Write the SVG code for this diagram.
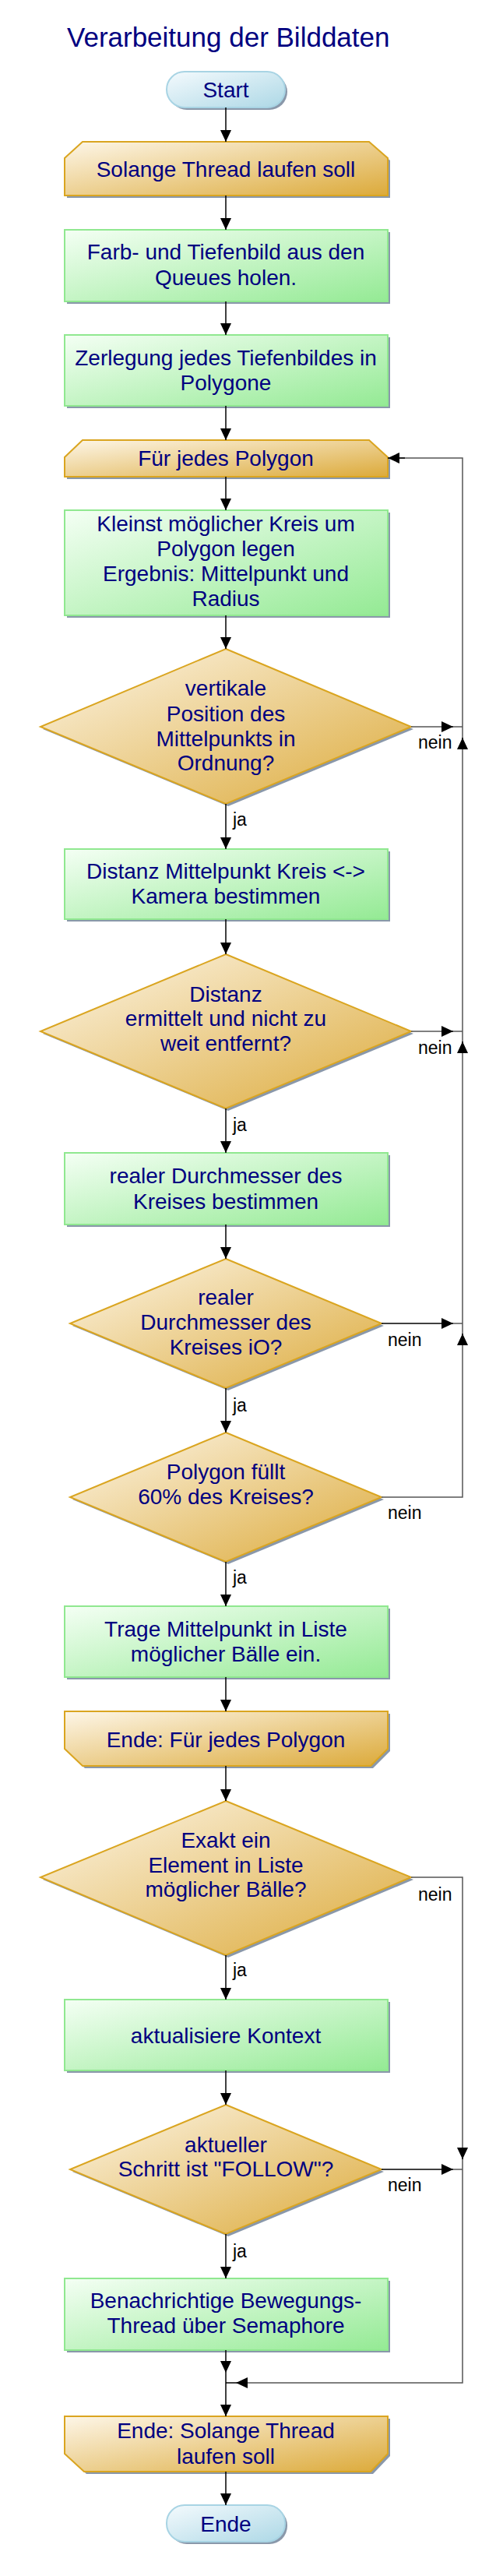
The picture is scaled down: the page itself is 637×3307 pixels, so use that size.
<svg xmlns="http://www.w3.org/2000/svg" width="637" height="3307" viewBox="0 0 637 3307">
<defs>
<linearGradient id="gGreen" x1="0" y1="0" x2="1" y2="1"><stop offset="0" stop-color="#f4fff4"/><stop offset="1" stop-color="#94ea94"/></linearGradient>
<linearGradient id="gGold" x1="0" y1="0" x2="1" y2="1"><stop offset="0" stop-color="#fdf6e8"/><stop offset="1" stop-color="#dcaa3a"/></linearGradient>
<linearGradient id="gBlue" x1="0" y1="0" x2="1" y2="1"><stop offset="0" stop-color="#f4fafd"/><stop offset="1" stop-color="#add8e6"/></linearGradient>
<marker id="ah" markerUnits="userSpaceOnUse" markerWidth="15" markerHeight="14" refX="15" refY="7" orient="auto"><path d="M0,0 L15,7 L0,14 z" fill="#000"/></marker>
<style>
.t{font-family:"Liberation Sans",Arial,sans-serif;font-size:28px;fill:#000080;text-anchor:middle}
.title{font-family:"Liberation Sans",Arial,sans-serif;font-size:35px;fill:#000080}
.lb{font-family:"Liberation Sans",Arial,sans-serif;font-size:23px;fill:#000}
.green{fill:url(#gGreen);stroke:#90e890;stroke-width:2}
.gold{fill:url(#gGold);stroke:#daa520;stroke-width:2}
.blue{fill:url(#gBlue);stroke:#a8d4e4;stroke-width:2}
.sh{fill:#8a98aa}
.c{fill:none;stroke:#000;stroke-width:1.5}
.lp{fill:none;stroke:#555;stroke-width:1.5}
</style>
</defs>
<rect width="637" height="3307" fill="#fff"/>
<text class="title" x="86" y="60">Verarbeitung der Bilddaten</text>

<g id="start">
<rect class="sh" x="217" y="95" width="152" height="46" rx="23"/>
<rect class="blue" x="214" y="92" width="152" height="46" rx="23"/>
<text class="t" x="290" y="125">Start</text>
</g>

<g id="loop1start">
<polygon class="sh" points="109,185 477,185 501,206 501,254 86,254 86,206"/>
<polygon class="gold" points="106,182 474,182 498,203 498,251 83,251 83,203"/>
<text class="t" x="290" y="227">Solange Thread laufen soll</text>
</g>

<g id="p1">
<rect class="sh" x="86" y="298" width="415" height="92"/>
<rect class="green" x="83" y="295" width="415" height="92"/>
<text class="t" x="290" y="333">Farb- und Tiefenbild aus den</text>
<text class="t" x="290" y="366">Queues holen.</text>
</g>

<g id="p2">
<rect class="sh" x="86" y="433" width="415" height="91"/>
<rect class="green" x="83" y="430" width="415" height="91"/>
<text class="t" x="290" y="469">Zerlegung jedes Tiefenbildes in</text>
<text class="t" x="290" y="501">Polygone</text>
</g>

<g id="loop2start">
<polygon class="sh" points="109,568 477,568 501,590 501,615 86,615 86,590"/>
<polygon class="gold" points="106,565 474,565 498,587 498,612 83,612 83,587"/>
<text class="t" x="290" y="598">Für jedes Polygon</text>
</g>

<g id="p3">
<rect class="sh" x="86" y="658" width="415" height="135"/>
<rect class="green" x="83" y="655" width="415" height="135"/>
<text class="t" x="290" y="682">Kleinst möglicher Kreis um</text>
<text class="t" x="290" y="714">Polygon legen</text>
<text class="t" x="290" y="746">Ergebnis: Mittelpunkt und</text>
<text class="t" x="290" y="778">Radius</text>
</g>

<g id="d1">
<polygon class="sh" points="293,836 531,936 293,1035 55,936"/>
<polygon class="gold" points="290,833 528,933 290,1032 52,933"/>
<text class="t" x="290" y="893">vertikale</text>
<text class="t" x="290" y="926">Position des</text>
<text class="t" x="290" y="958">Mittelpunkts in</text>
<text class="t" x="290" y="989">Ordnung?</text>
</g>

<g id="p4">
<rect class="sh" x="86" y="1093" width="415" height="90"/>
<rect class="green" x="83" y="1090" width="415" height="90"/>
<text class="t" x="290" y="1128">Distanz Mittelpunkt Kreis &lt;-&gt;</text>
<text class="t" x="290" y="1160">Kamera bestimmen</text>
</g>

<g id="d2">
<polygon class="sh" points="293,1228 531,1327 293,1426 55,1327"/>
<polygon class="gold" points="290,1225 528,1324 290,1423 52,1324"/>
<text class="t" x="290" y="1286">Distanz</text>
<text class="t" x="290" y="1317">ermittelt und nicht zu</text>
<text class="t" x="290" y="1349">weit entfernt?</text>
</g>

<g id="p5">
<rect class="sh" x="86" y="1483" width="415" height="92"/>
<rect class="green" x="83" y="1480" width="415" height="92"/>
<text class="t" x="290" y="1519">realer Durchmesser des</text>
<text class="t" x="290" y="1552">Kreises bestimmen</text>
</g>

<g id="d3">
<polygon class="sh" points="293,1619 493,1702 293,1785 93,1702"/>
<polygon class="gold" points="290,1616 490,1699 290,1782 90,1699"/>
<text class="t" x="290" y="1675">realer</text>
<text class="t" x="290" y="1707">Durchmesser des</text>
<text class="t" x="290" y="1739">Kreises iO?</text>
</g>

<g id="d4">
<polygon class="sh" points="293,1842 493,1925 293,2008 93,1925"/>
<polygon class="gold" points="290,1839 490,1922 290,2005 90,1922"/>
<text class="t" x="290" y="1899">Polygon füllt</text>
<text class="t" x="290" y="1931">60% des Kreises?</text>
</g>

<g id="p6">
<rect class="sh" x="86" y="2065" width="415" height="91"/>
<rect class="green" x="83" y="2062" width="415" height="91"/>
<text class="t" x="290" y="2101">Trage Mittelpunkt in Liste</text>
<text class="t" x="290" y="2133">möglicher Bälle ein.</text>
</g>

<g id="loop2end">
<polygon class="sh" points="86,2200 501,2200 501,2248 479,2270 109,2270 86,2248"/>
<polygon class="gold" points="83,2197 498,2197 498,2245 476,2267 106,2267 83,2245"/>
<text class="t" x="290" y="2243">Ende: Für jedes Polygon</text>
</g>

<g id="d5">
<polygon class="sh" points="293,2315 531,2413 293,2513 55,2413"/>
<polygon class="gold" points="290,2312 528,2410 290,2510 52,2410"/>
<text class="t" x="290" y="2372">Exakt ein</text>
<text class="t" x="290" y="2404">Element in Liste</text>
<text class="t" x="290" y="2435">möglicher Bälle?</text>
</g>

<g id="p7">
<rect class="sh" x="86" y="2570" width="415" height="91"/>
<rect class="green" x="83" y="2567" width="415" height="91"/>
<text class="t" x="290" y="2623">aktualisiere Kontext</text>
</g>

<g id="d6">
<polygon class="sh" points="293,2705 493,2788 293,2871 93,2788"/>
<polygon class="gold" points="290,2702 490,2785 290,2868 90,2785"/>
<text class="t" x="290" y="2763">aktueller</text>
<text class="t" x="290" y="2794">Schritt ist "FOLLOW"?</text>
</g>

<g id="p8">
<rect class="sh" x="86" y="2928" width="415" height="92"/>
<rect class="green" x="83" y="2925" width="415" height="92"/>
<text class="t" x="290" y="2963">Benachrichtige Bewegungs-</text>
<text class="t" x="290" y="2995">Thread über Semaphore</text>
</g>

<g id="loop1end">
<polygon class="sh" points="86,3105 501,3105 501,3153 479,3176 111,3176 86,3153"/>
<polygon class="gold" points="83,3102 498,3102 498,3150 476,3173 108,3173 83,3150"/>
<text class="t" x="290" y="3130">Ende: Solange Thread</text>
<text class="t" x="290" y="3163">laufen soll</text>
</g>

<g id="end">
<rect class="sh" x="217" y="3219" width="152" height="47" rx="23"/>
<rect class="blue" x="214" y="3216" width="152" height="47" rx="23"/>
<text class="t" x="290" y="3250">Ende</text>
</g>

<g id="connectors">
<path class="c" marker-end="url(#ah)" d="M290,138 V182"/>
<path class="c" marker-end="url(#ah)" d="M290,251 V295"/>
<path class="c" marker-end="url(#ah)" d="M290,387 V430"/>
<path class="c" marker-end="url(#ah)" d="M290,521 V565"/>
<path class="c" marker-end="url(#ah)" d="M290,612 V655"/>
<path class="c" marker-end="url(#ah)" d="M290,790 V833"/>
<path class="c" marker-end="url(#ah)" d="M290,1032 V1090"/>
<path class="c" marker-end="url(#ah)" d="M290,1180 V1225"/>
<path class="c" marker-end="url(#ah)" d="M290,1423 V1480"/>
<path class="c" marker-end="url(#ah)" d="M290,1572 V1616"/>
<path class="c" marker-end="url(#ah)" d="M290,1782 V1839"/>
<path class="c" marker-end="url(#ah)" d="M290,2005 V2062"/>
<path class="c" marker-end="url(#ah)" d="M290,2153 V2197"/>
<path class="c" marker-end="url(#ah)" d="M290,2267 V2312"/>
<path class="c" marker-end="url(#ah)" d="M290,2510 V2567"/>
<path class="c" marker-end="url(#ah)" d="M290,2658 V2702"/>
<path class="c" marker-end="url(#ah)" d="M290,2868 V2925"/>
<path class="c" marker-end="url(#ah)" d="M290,3017 V3046"/>
<path class="c" marker-end="url(#ah)" d="M290,3046 V3102"/>
<path class="c" marker-end="url(#ah)" d="M290,3173 V3216"/>

<path class="lp" d="M490,1922 H594 V588 H513"/>
<path class="c" marker-end="url(#ah)" d="M520,588 H498"/>
<path class="lp" d="M528,933 H567"/><path class="c" marker-end="url(#ah)" d="M567,933 H582"/><path class="lp" d="M582,933 H594"/>
<path class="lp" d="M528,1324 H567"/><path class="c" marker-end="url(#ah)" d="M567,1324 H582"/><path class="lp" d="M582,1324 H594"/>
<path class="c" d="M490,1699 H567"/><path class="c" marker-end="url(#ah)" d="M567,1699 H582"/><path class="lp" d="M582,1699 H594"/>
<path class="c" marker-end="url(#ah)" d="M594,962 V947"/>
<path class="c" marker-end="url(#ah)" d="M594,1352 V1337"/>
<path class="c" marker-end="url(#ah)" d="M594,1727 V1712"/>

<path class="lp" d="M528,2410 H594 V3059 H318"/>
<path class="c" marker-end="url(#ah)" d="M318,3059 H303"/>
<path class="c" d="M303,3059 H290"/>
<path class="c" marker-end="url(#ah)" d="M594,2757 V2772"/>
<path class="c" d="M490,2785 H567"/><path class="c" marker-end="url(#ah)" d="M567,2785 H582"/><path class="lp" d="M582,2785 H594"/>

<text class="lb" x="299" y="1060">ja</text>
<text class="lb" x="299" y="1452">ja</text>
<text class="lb" x="299" y="1812">ja</text>
<text class="lb" x="299" y="2033">ja</text>
<text class="lb" x="299" y="2537">ja</text>
<text class="lb" x="299" y="2898">ja</text>
<text class="lb" x="537" y="961">nein</text>
<text class="lb" x="537" y="1353">nein</text>
<text class="lb" x="498" y="1728">nein</text>
<text class="lb" x="498" y="1950">nein</text>
<text class="lb" x="537" y="2440">nein</text>
<text class="lb" x="498" y="2813">nein</text>
</g>
</svg>
